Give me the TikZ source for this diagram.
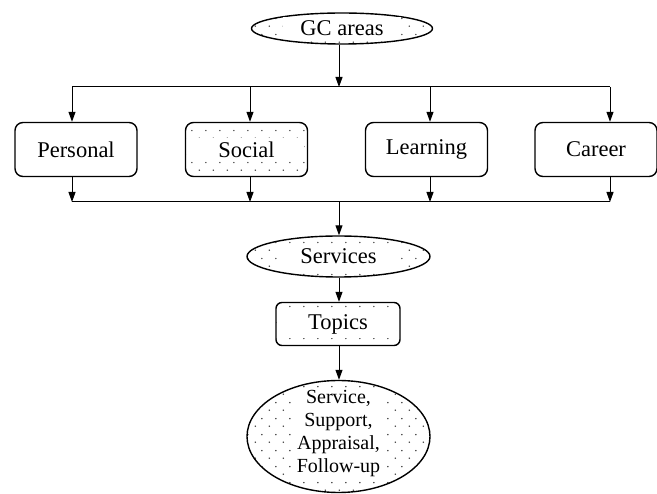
\documentclass[tikz,border=0pt]{standalone}
\usepackage{fontspec}
\setmainfont{Liberation Serif}
\usetikzlibrary{shapes.geometric,arrows.meta,patterns.meta}
\tikzdeclarepattern{
  name=sparsedots,
  type=uncolored,
  bottom left={(0pt,0pt)},
  top right={(14pt,16pt)},
  tile size={(14pt,16pt)},
  code={
    \fill (3.5pt,4pt) circle (0.85pt);
    \fill (10.5pt,12pt) circle (0.85pt);
  }
}
\begin{document}
\begin{tikzpicture}[x=1pt,y=-1pt,
  every node/.style={font=\fontsize{22.5}{26}\selectfont},
  line/.style={line width=1pt},
  arr/.style={line width=1pt,-{Triangle[length=10pt,width=7pt]}},
  dotted fill/.style={pattern=sparsedots,pattern color=black!75},
  box/.style={draw,line width=1.4pt,rounded corners=8pt,minimum width=122pt,minimum height=54pt,inner sep=0pt},
  ell/.style={draw,ellipse,line width=1.4pt,inner sep=0pt,dotted fill},
  txt/.style={fill=white,inner sep=0pt,minimum width=118pt,minimum height=22pt}
]
\useasboundingbox (0,0) rectangle (657,494);

\node[ell,minimum width=181pt,minimum height=31pt] (gc) at (342,28.5) {};
\node[txt] (gct) at (gc) {GC areas};

\node[box] (p) at (76,149.5) {Personal};
\node[box,dotted fill] (s) at (246.5,149.5) {};
\node[txt,minimum width=114pt] (st) at (s) {Social};
\node[box] (l) at (426.5,149.5) {Learning};
\node[box] (c) at (596,149.5) {Career};

\node[ell,minimum width=183pt,minimum height=41pt] (sv) at (338.5,256.5) {};
\node[txt] (svt) at (sv) {Services};
\node[draw,line width=1.4pt,rounded corners=6pt,dotted fill,minimum width=124pt,minimum height=43pt,inner sep=0pt] (tp) at (338,324) {};
\node[txt,minimum width=116pt,minimum height=28pt] (tpt) at (tp) {Topics};
\node[ell,minimum width=183pt,minimum height=112pt] (fu) at (338.5,436.5) {};
\node[align=center,fill=white,inner sep=0pt,text width=96pt,font=\fontsize{20}{23}\selectfont] (fut) at ([yshift=3pt]fu) {Service,\\Support,\\Appraisal,\\Follow-up};

% top bus
\coordinate (tm) at (339,87);
\coordinate (tl) at (72,87);
\coordinate (ts) at (250,87);
\coordinate (tlr) at (430,87);
\coordinate (tr) at (610,87);
\draw[arr] (gc.south -| tm) -- (tm);
\draw[line] (tl) -- (tr);
\draw[arr] (tl) -- (tl |- p.north);
\draw[arr] (ts) -- (ts |- s.north);
\draw[arr] (tlr) -- (tlr |- l.north);
\draw[arr] (tr) -- (tr |- c.north);

% bottom bus
\coordinate (bm) at (339,202);
\coordinate (bl) at (72,202);
\coordinate (bs) at (250,202);
\coordinate (blr) at (430,202);
\coordinate (br) at (610,202);
\draw[line] (bl) -- (br);
\draw[arr] (bl |- p.south) -- (bl);
\draw[arr] (bs |- s.south) -- (bs);
\draw[arr] (blr |- l.south) -- (blr);
\draw[arr] (br |- c.south) -- (br);
\draw[arr] (bm) -- (bm |- sv.north);

\draw[arr] (sv.south -| bm) -- (tp.north -| bm);
\draw[arr] (tp.south -| bm) -- (fu.north -| bm);
\end{tikzpicture}
\end{document}
